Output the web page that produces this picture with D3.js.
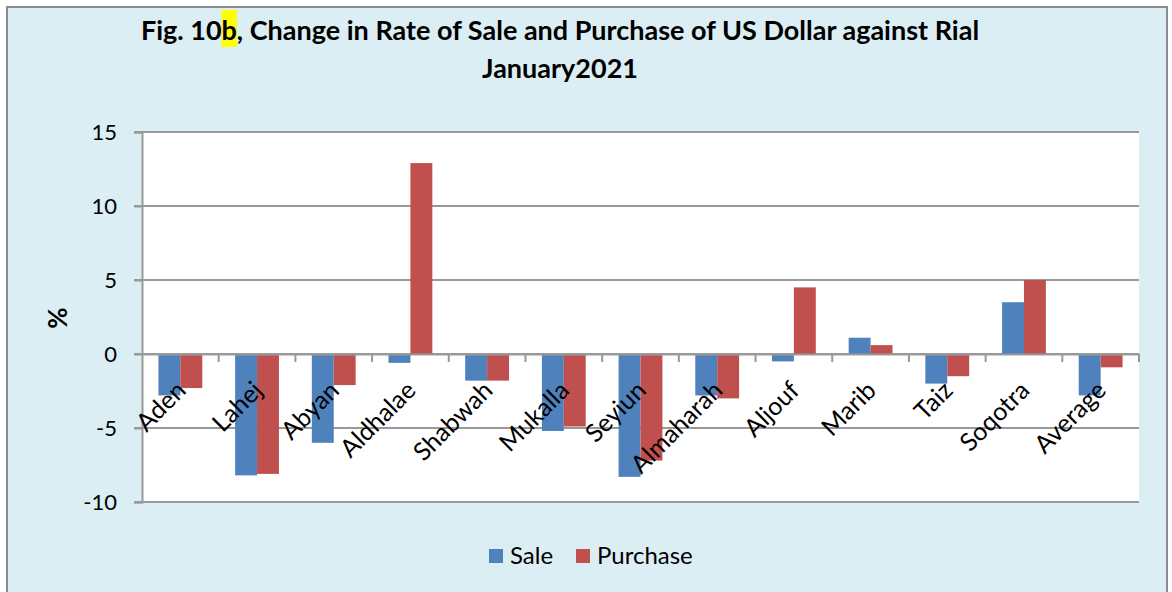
<!DOCTYPE html>
<html>
<head>
<meta charset="utf-8">
<script src="https://cdn.jsdelivr.net/npm/d3@7"></script>
<style>
  body { margin: 0; background: #fff; }
  text { font-family: Lato, "Open Sans", sans-serif; fill: #000; }
</style>
</head>
<body>
<svg width="1172" height="592"></svg>
<script>
// values (% change)
var regions = ["Aden", "Lahej", "Abyan", "Aldhalae", "Shabwah", "Mukalla", "Seyiun",
               "Almaharah", "Aljouf", "Marib", "Taiz", "Soqotra", "Average"];
var sale     = [-2.8, -8.2, -6.0, -0.6, -1.8, -5.2, -8.3, -2.8, -0.5, 1.1, -2.0, 3.5, -2.8];
var purchase = [-2.3, -8.1, -2.1, 12.9, -1.8, -4.9, -7.2, -3.0, 4.5, 0.6, -1.5, 5.0, -0.9];
var seriesNames = ["Sale", "Purchase"];
var yTicks = [-10, -5, 0, 5, 10, 15];

var colors = {Sale: "#4F81BD", Purchase: "#C0504D"};

var margin = {top: 132, right: 33, bottom: 90, left: 142}
  , width = 1172 - margin.left - margin.right
  , height = 592 - margin.top - margin.bottom;

var svg = d3.select("svg");

// chart frame
svg.append("rect")
  .attr("x", 7).attr("y", 7)
  .attr("width", 1160).attr("height", 600)
  .attr("fill", "#DBEEF4")
  .attr("stroke", "#8C8C8C")
  .attr("stroke-width", 2);

var data = regions.map(function(r, i) {
  return {region: r, Sale: sale[i], Purchase: purchase[i]};
});

var x = d3.scaleBand()
  .domain(regions)
  .range([0, width]);

var x1 = d3.scaleBand()
  .domain(seriesNames)
  .range([0, x.bandwidth() * 0.5714])
  .padding(0);

var y = d3.scaleLinear()
  .domain([-10, 15])
  .range([height, 0]);

var g = svg.append("g")
  .attr("transform", "translate(" + margin.left + "," + margin.top + ")");

g.append("rect")
  .attr("width", width).attr("height", height)
  .attr("fill", "#fff");

// gridlines
g.selectAll("line.grid")
  .data(yTicks)
  .enter().append("line")
    .attr("class", "grid")
    .attr("x1", -8).attr("x2", width)
    .attr("y1", function(d){ return y(d); })
    .attr("y2", function(d){ return y(d); })
    .attr("stroke", "#999")
    .attr("stroke-width", 2);

// bars
var groups = g.selectAll("g.region")
  .data(data)
  .enter().append("g")
    .attr("class", "region")
    .attr("transform", function(d){
      return "translate(" + (x(d.region) + x.bandwidth() * 0.2143) + ",0)";
    });

groups.selectAll("rect")
  .data(function(d){ return seriesNames.map(function(k){ return {key: k, value: d[k]}; }); })
  .enter().append("rect")
    .attr("x", function(d){ return x1(d.key); })
    .attr("width", x1.bandwidth())
    .attr("y", function(d){ return y(Math.max(0, d.value)); })
    .attr("height", function(d){ return Math.abs(y(d.value) - y(0)); })
    .attr("fill", function(d){ return colors[d.key]; });

// y axis
var yAxis = d3.axisLeft(y).tickValues(yTicks).tickSize(8).tickPadding(17)
  .tickFormat(function(d){ return String(d); });
var ya = g.append("g").call(yAxis);
ya.select(".domain").attr("stroke", "#999").attr("stroke-width", 2);
ya.selectAll(".tick line").attr("stroke", "#999").attr("stroke-width", 2);
ya.selectAll(".tick text").style("font-size", "22px").attr("font-family", null);

// x axis on zero line
var xAxis = d3.axisBottom(x).tickSize(0).tickFormat("");
var xa = g.append("g")
  .attr("transform", "translate(0," + y(0) + ")")
  .call(xAxis);
xa.select(".domain").attr("stroke", "#999").attr("stroke-width", 2);

// tick marks at category boundaries
xa.selectAll("line.bound")
  .data(regions.slice(1).concat(["__end"]))
  .enter().append("line")
    .attr("class", "bound")
    .attr("x1", function(d, i){ return i < regions.length - 1 ? x(d) : width; })
    .attr("x2", function(d, i){ return i < regions.length - 1 ? x(d) : width; })
    .attr("y1", 0).attr("y2", 8)
    .attr("stroke", "#999")
    .attr("stroke-width", 2);

// category labels
xa.selectAll("text.cat")
  .data(regions)
  .enter().append("text")
    .attr("class", "cat")
    .attr("text-anchor", "end")
    .attr("transform", function(d){
      return "translate(" + (x(d) + x.bandwidth() / 2 + 7) + "," + 38 + ") rotate(-45)";
    })
    .style("font-size", "25px")
    .text(function(d){ return d; });

// y axis title
svg.append("text")
  .attr("transform", "translate(67,318) rotate(-90)")
  .attr("text-anchor", "middle")
  .style("font-size", "26px")
  .style("font-weight", "bold")
  .text("%");

// title
var titleG = svg.append("g");
var hl = titleG.append("rect").attr("fill", "#FFFF00");
var t1 = titleG.append("text")
  .attr("x", 560).attr("y", 40)
  .attr("text-anchor", "middle")
  .style("font-size", "27px")
  .style("font-weight", "bold")
  .text("Fig. 10b, Change in Rate of Sale and Purchase of US Dollar against Rial");
titleG.append("text")
  .attr("x", 560).attr("y", 78)
  .attr("text-anchor", "middle")
  .style("font-size", "27px")
  .style("font-weight", "bold")
  .text("January2021");

var bIdx = t1.text().indexOf("b");
var ext = t1.node().getExtentOfChar(bIdx);
hl.attr("x", ext.x).attr("y", 10)
  .attr("width", ext.width).attr("height", 37);

// legend
var legend = svg.append("g")
  .attr("transform", "translate(489,549)");
var items = legend.selectAll("g")
  .data(seriesNames)
  .enter().append("g")
    .attr("transform", function(d, i){ return "translate(" + (i * 87) + ",0)"; });
items.append("rect")
  .attr("width", 14).attr("height", 14)
  .attr("fill", function(d){ return colors[d]; });
items.append("text")
  .attr("x", 21).attr("y", 15)
  .style("font-size", "24px")
  .text(function(d){ return d; });
</script>
</body>
</html>
